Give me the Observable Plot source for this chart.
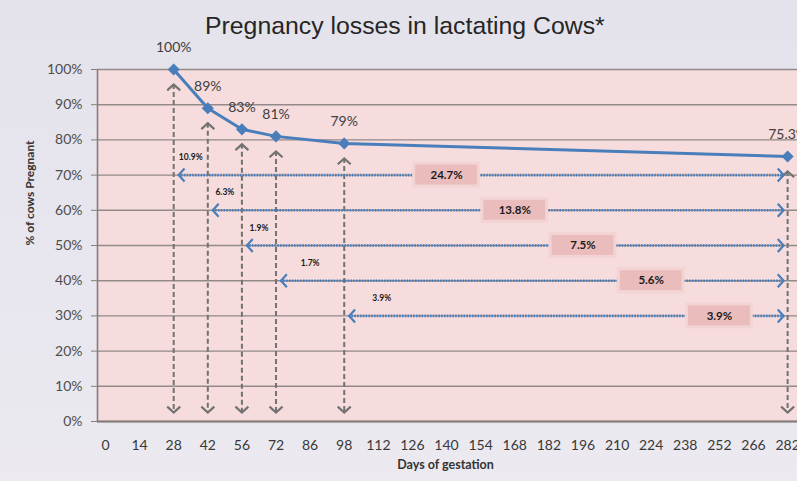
<!DOCTYPE html>
<html>
<head>
<meta charset="utf-8">
<script src="https://cdn.jsdelivr.net/npm/d3@7"></script>
<script src="https://cdn.jsdelivr.net/npm/@observablehq/plot@0.6"></script>
<style>
  html, body { margin: 0; padding: 0; overflow: hidden; }
  #wrap { position: relative; width: 797px; height: 481px; overflow: hidden;
    background: linear-gradient(180deg, #e4e2ea 0%, #e8e6ee 60%, #eceaf0 100%); }
  #title { position: absolute; left: 205px; top: 12px; font: 24.8px "Liberation Sans", Arial, sans-serif;
    color: #262626; white-space: nowrap; }
  #chart { position: absolute; left: 0; top: 0; }
</style>
</head>
<body>
<div id="wrap">
  <div id="chart"></div>
  <div id="title">Pregnancy losses in lactating Cows*</div>
</div>
<script>
// ---- data ----
const dayTicks = [0,14,28,42,56,72,86,98,112,126,140,154,168,182,196,210,224,238,252,266,282];
const days = [28,42,56,72,98,282];
const pregnant = [100,89,83,81,79,75.3];
const pointLabels = ["100%","89%","83%","81%","79%","75.3%"];
const lossFrom = [28,42,56,72,98];
const lossStep = ["10.9%","6.3%","1.9%","1.7%","3.9%"];
const lossToTerm = ["24.7%","13.8%","7.5%","5.6%","3.9%"];
const arrowLevels = [70,60,50,40,30];
const boxAtDay = [140,168,196,224,252];
const yTicks = [0,10,20,30,40,50,60,70,80,90,100];

// ---- derived tables ----
const idx = d => dayTicks.indexOf(d);
const points = days.map((d, i) => ({x: idx(d), y: pregnant[i], label: pointLabels[i]}));
const lastX = idx(days[days.length - 1]);
const spans = lossFrom.map((d, i) => {
  const a = idx(d), b = idx(days[i + 1]);
  return {
    x1: a, x2: lastX, y: arrowLevels[i],
    sx: Math.min((a + b) / 2, a + 1.1), step: lossStep[i],
    bx: idx(boxAtDay[i]), total: lossToTerm[i]
  };
});

const xDomain = [-0.234, 20.29];
const chevron = {
  draw(ctx, size) {
    const s = Math.sqrt(size / Math.PI);
    ctx.moveTo(-s, s * 0.9);
    ctx.lineTo(0, 0);
    ctx.lineTo(s, s * 0.9);
  }
};
const blue = "#4a7ebb";
const grey = "#727272";

const chart = Plot.plot({
  width: 797, height: 481,
  marginLeft: 97, marginRight: 0, marginTop: 69, marginBottom: 60,
  x: {domain: xDomain, axis: null},
  y: {domain: [0, 100], axis: null},
  style: {background: "transparent", fontFamily: "Lato, 'Open Sans', sans-serif", fontSize: "14px", color: "#404040"},
  marks: [
    Plot.frame({fill: "#f6dcdc", stroke: "none"}),
    Plot.ruleY(yTicks, {stroke: "#928989", strokeWidth: 1.4}),
    Plot.ruleY([0], {stroke: "#867d7d", strokeWidth: 2}),
    Plot.ruleX([xDomain[0]], {stroke: "#867d7d", strokeWidth: 1.6}),
    Plot.axisY(yTicks, {tickFormat: d => d + "%", tickSize: 6, tickPadding: 9, stroke: "#867d7d", fill: "#4d4d4d", fontSize: 14, label: null}),
    Plot.axisX(d3.range(dayTicks.length), {tickFormat: i => dayTicks[i], tickSize: 0, tickPadding: 19, fill: "#383838", fontSize: 14, label: null}),
    Plot.text(["% of cows Pregnant"], {frameAnchor: "left", dx: -67, rotate: -90, fontWeight: "bold", fontSize: 12, fill: "#333"}),
    Plot.text(["Days of gestation"], {frameAnchor: "bottom", dy: 47, dx: -2, fontWeight: "bold", fontSize: 12.5, fill: "#333"}),
    // vertical dashed double arrows
    Plot.ruleX(points, {x: "x", y1: "y", y2: 0, insetTop: 15, insetBottom: 9, stroke: grey, strokeWidth: 2, strokeDasharray: "5,3"}),
    Plot.dot(points, {x: "x", y: "y", dy: 15, symbol: chevron, r: 6.5, stroke: grey, strokeWidth: 2.2, fill: "none"}),
    Plot.dot(points, {x: "x", y: 0, dy: -9, rotate: 180, symbol: chevron, r: 6.5, stroke: grey, strokeWidth: 2.2, fill: "none"}),
    // horizontal dotted double arrows
    Plot.ruleY(spans, {x1: "x1", x2: "x2", y: "y", insetLeft: 5, insetRight: 5, stroke: blue, strokeWidth: 2.6, strokeDasharray: "1.6,1.2"}),
    Plot.dot(spans, {x: "x1", y: "y", dx: 5, rotate: -90, symbol: chevron, r: 6.5, stroke: blue, strokeWidth: 2.2, fill: "none"}),
    Plot.dot(spans, {x: "x2", y: "y", dx: -4, rotate: 90, symbol: chevron, r: 6.5, stroke: blue, strokeWidth: 2.2, fill: "none"}),
    // boxes with totals
    Plot.rect(spans, {x1: d => d.bx - 0.95, x2: d => d.bx + 0.95, y1: d => d.y - 3.25, y2: d => d.y + 3.25, fill: "#ebbcbc", stroke: "#f2d4d4", strokeWidth: 3}),
    Plot.text(spans, {x: "bx", y: "y", text: "total", fontWeight: "bold", fontSize: 11.5, fill: "#1a1a1a"}),
    Plot.text(spans, {x: "sx", y: d => d.y + 5, text: "step", fontWeight: "bold", fontSize: 8.5, fill: "#1a1a1a"}),
    // main line
    Plot.line(points, {x: "x", y: "y", stroke: blue, strokeWidth: 3}),
    Plot.dot(points, {x: "x", y: "y", symbol: "diamond2", r: 4.5, fill: blue, stroke: blue}),
    Plot.text(points, {x: "x", y: "y", dy: -22, text: "label", fontSize: 14, fill: "#404040"})
  ]
});
document.getElementById("chart").appendChild(chart);
</script>
</body>
</html>
